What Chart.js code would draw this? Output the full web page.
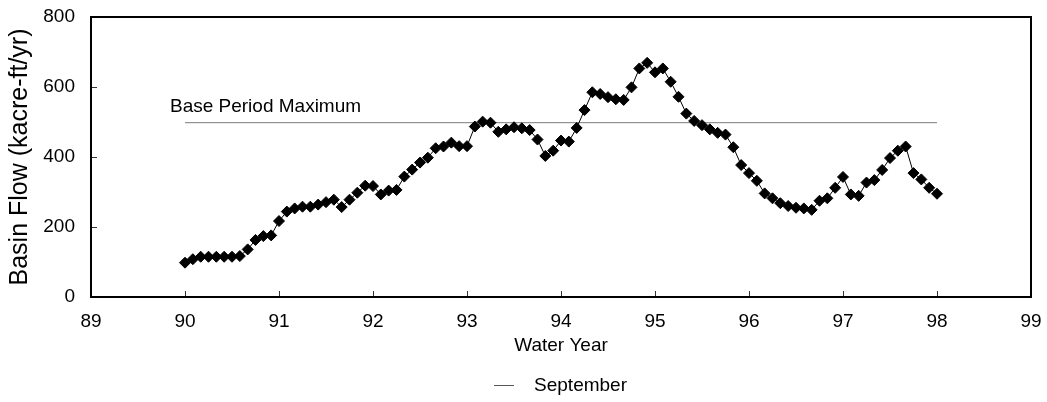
<!DOCTYPE html>
<html>
<head>
<meta charset="utf-8">
<script src="https://cdn.jsdelivr.net/npm/chart.js@4.4.0/dist/chart.umd.min.js"></script>
<style>
  html, body { margin: 0; padding: 0; background: #fff; }
</style>
</head>
<body>
<canvas id="flowChart" width="1047" height="402"></canvas>
<script>
// monthly basin flow, water years 90 - 98 (one point per month)
var startYear = 90;
var flow = [
  98, 108, 115, 115, 115, 115, 115, 117, 136, 163, 174, 176,
  217, 244, 253, 258, 258, 264, 271, 278, 257, 278, 298, 318,
  317, 293, 304, 306, 344, 364, 384, 398, 425, 430, 441, 431,
  431, 487, 501, 498, 472, 479, 485, 482, 477, 450, 403, 418,
  447, 444, 483, 534, 585, 580, 571, 565, 563, 599, 653, 669,
  642, 653, 615, 572, 524, 503, 491, 479, 469, 464, 428, 377,
  354, 332, 296, 282, 268, 260, 255, 253, 249, 275, 282, 312,
  343, 293, 289, 327, 334, 363, 397, 418, 430, 354, 336, 312,
  295
];
var baseMax = 498;
var baseSpan = [90, 98];
var baseLabel = 'Base Period Maximum';
var xTicks = [89, 90, 91, 92, 93, 94, 95, 96, 97, 98, 99];
var yTicks = [0, 200, 400, 600, 800];

var font = 'Liberation Sans, Arial, Helvetica, sans-serif';

var points = flow.map(function (v, i) {
  return { x: startYear + i / 12, y: v };
});
var basePoints = baseSpan.map(function (x) {
  return { x: x, y: baseMax };
});

// box round the plot, short inside tick marks, label over base line
var framePlugin = {
  id: 'frame',
  afterLayout: function (chart) {
    // legend sits under the middle of the plot, not the canvas
    chart.legend.left += 45;
    chart.legend.right += 45;
    chart.legend.top += 3;
    chart.legend.bottom += 3;
  },
  afterDraw: function (chart) {
    var ctx = chart.ctx, a = chart.chartArea;
    var xs = chart.scales.x, ys = chart.scales.y;
    ctx.save();
    ctx.strokeStyle = '#333';
    ctx.lineWidth = 1;
    ctx.beginPath();
    yTicks.forEach(function (v) {
      var py = Math.round(ys.getPixelForValue(v)) + 0.5;
      ctx.moveTo(a.left, py);
      ctx.lineTo(a.left + 6, py);
    });
    xTicks.forEach(function (v) {
      var px = Math.round(xs.getPixelForValue(v)) + 0.5;
      ctx.moveTo(px, a.bottom);
      ctx.lineTo(px, a.bottom - 6);
    });
    ctx.stroke();
    ctx.strokeStyle = '#000';
    ctx.lineWidth = 2;
    ctx.strokeRect(a.left, a.top, a.right - a.left, a.bottom - a.top);

    ctx.fillStyle = '#000';
    ctx.font = '19px ' + font;
    ctx.textBaseline = 'alphabetic';
    ctx.fillText(baseLabel, xs.getPixelForValue(89.84), ys.getPixelForValue(baseMax) - 11);
    ctx.restore();
  }
};

var ctx = document.getElementById('flowChart');
var flowChart = new Chart(ctx, {
  type: 'scatter',
  data: {
    datasets: [{
      label: 'September',
      data: points,
      showLine: true,
      borderColor: '#000',
      borderWidth: 1,
      backgroundColor: '#000',
      pointStyle: 'rectRot',
      pointRadius: 5.5,
      pointBorderWidth: 1,
      pointBorderColor: '#000',
      pointBackgroundColor: '#000'
    }, {
      label: baseLabel,
      data: basePoints,
      showLine: true,
      borderColor: '#7a7a7a',
      borderWidth: 1,
      pointRadius: 0
    }]
  },
  options: {
    responsive: false,
    animation: false,
    devicePixelRatio: 1,
    layout: { padding: { left: 0, right: 16, top: 17, bottom: 0 } },
    scales: {
      x: {
        type: 'linear',
        min: 89,
        max: 99,
        afterBuildTicks: function (scale) {
          scale.ticks = xTicks.map(function (v) { return { value: v }; });
        },
        afterFit: function (scale) {
          scale.height = 73;
          scale.paddingLeft = 0;
          scale.paddingRight = 0;
        },
        grid: { display: false, drawTicks: false },
        border: { display: false },
        ticks: { padding: 13, color: '#000', font: { family: font, size: 19 } },
        title: {
          display: true,
          text: 'Water Year',
          color: '#000',
          font: { family: font, size: 19 },
          padding: { top: 0, bottom: 13 }
        }
      },
      y: {
        min: 0,
        max: 800,
        afterBuildTicks: function (scale) {
          scale.ticks = yTicks.map(function (v) { return { value: v }; });
        },
        afterFit: function (scale) {
          scale.width = 91;
          scale.paddingTop = 0;
          scale.paddingBottom = 0;
        },
        grid: { display: false, drawTicks: false },
        border: { display: false },
        ticks: { padding: 16, color: '#000', font: { family: font, size: 19 } },
        title: {
          display: true,
          text: 'Basin Flow (kacre-ft/yr)',
          color: '#000',
          font: { family: font, size: 25 },
          padding: { top: 5, bottom: 0 }
        }
      }
    },
    plugins: {
      tooltip: { enabled: false },
      legend: {
        position: 'bottom',
        labels: {
          color: '#000',
          font: { family: font, size: 19 },
          padding: 3,
          usePointStyle: true,
          pointStyleWidth: 20,
          generateLabels: function () {
            return [{
              text: '  September',
              fillStyle: '#555',
              strokeStyle: '#555',
              lineWidth: 1,
              pointStyle: 'line',
              datasetIndex: 0
            }];
          }
        }
      }
    }
  },
  plugins: [framePlugin]
});
</script>
</body>
</html>
